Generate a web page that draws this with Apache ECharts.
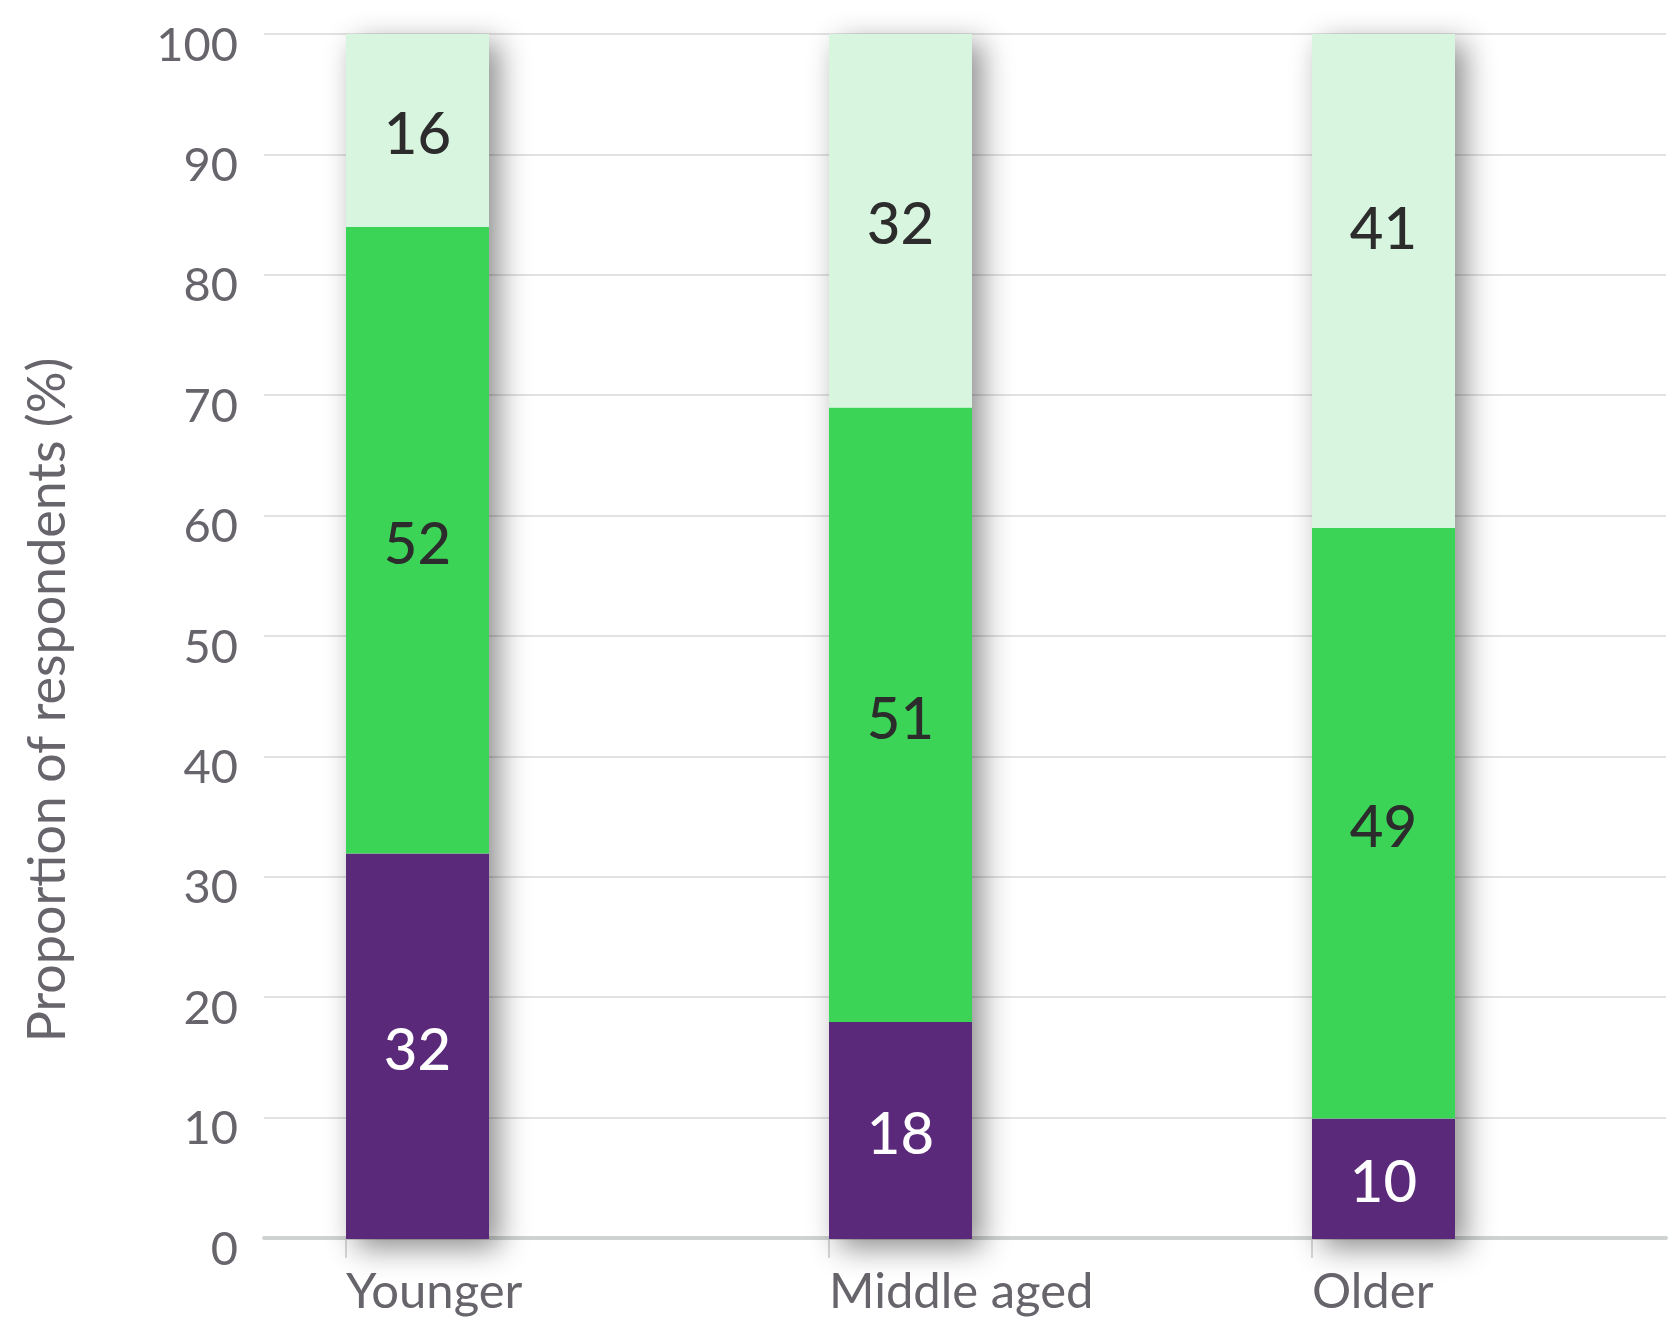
<!DOCTYPE html>
<html>
<head>
<meta charset="utf-8">
<script src="https://cdn.jsdelivr.net/npm/echarts@6/dist/echarts.min.js"></script>
<style>
html,body{margin:0;padding:0;background:#fff;}
#chart{width:1672px;height:1317px;}
</style>
</head>
<body>
<div id="chart"></div>
<script>
const categories = ['Younger', 'Middle aged', 'Older'];
const bottomValues = [32, 18, 10];
const middleValues = [52, 51, 49];
const topValues = [16, 32, 41];
const yTicks = [0, 10, 20, 30, 40, 50, 60, 70, 80, 90, 100];
const yTitle = 'Proportion of respondents (%)';

const chart = echarts.init(document.getElementById('chart'), null, {renderer: 'canvas'});
const FONT = 'Lato';
const GREY = '#67646b';

// layout (pixels)
const BAND = 483, BAR_W = 143, FIRST_CENTER = 417.5;
const PLOT_L = 264, PLOT_R = 1666, TOP = 34, BOTTOM = 78, W = 1672;
const barGridLeft = FIRST_CENTER - BAND / 2;
const barGridRight = W - (barGridLeft + BAND * categories.length);
// value axis (for ticks/labels) mapping: category index -> bar centre
const X_MIN = -(FIRST_CENTER - PLOT_L) / BAND;
const X_MAX = X_MIN + (PLOT_R - PLOT_L) / BAND;
const HALF = (BAR_W / 2) / BAND;

const totals = categories.map((c, i) => bottomValues[i] + middleValues[i] + topValues[i]);

const labelDark = {show: true, position: 'inside', color: '#2c2c2c', fontSize: 58, fontFamily: FONT, fontWeight: 500, offset: [0, 5]};
const labelWhite = Object.assign({}, labelDark, {color: '#ffffff'});
// the last top label sits higher in its segment in the original
const topData = topValues.map((v, i) => i === categories.length - 1 ? {value: v, label: {offset: [0, -51]}} : v);

chart.setOption({
  animation: false,
  backgroundColor: '#ffffff',
  grid: [
    {left: PLOT_L, right: W - PLOT_R, top: TOP, bottom: BOTTOM, containLabel: false},
    {left: barGridLeft, right: barGridRight, top: TOP, bottom: BOTTOM, containLabel: false}
  ],
  xAxis: [{
    gridIndex: 0, type: 'value', min: X_MIN, max: X_MAX,
    splitLine: {show: false},
    axisLine: {show: true, onZero: false, lineStyle: {color: '#cfd3d2', width: 4}},
    axisTick: {show: true, length: 20, customValues: categories.map((c, i) => i - HALF), lineStyle: {color: '#cccccc', width: 1.5}},
    axisLabel: {show: true, customValues: categories.map((c, i) => i - HALF), align: 'left', margin: 30,
      color: GREY, fontSize: 49, fontFamily: FONT,
      formatter: v => categories[Math.round(v + HALF)]}
  }, {
    gridIndex: 1, type: 'category', data: categories, show: false
  }, {
    gridIndex: 1, type: 'category', data: categories, show: false
  }],
  yAxis: [{
    gridIndex: 0, type: 'value', min: 0, max: 100, interval: 10,
    axisLine: {show: false}, axisTick: {show: false},
    splitLine: {show: true, lineStyle: {color: '#d9d9d9', width: 1.5}},
    axisLabel: {color: GREY, fontSize: 47, fontFamily: FONT, margin: 26,
      formatter: v => yTicks.includes(v) ? '{v|' + v + '}' : '',
      rich: {v: {color: GREY, fontSize: 47, fontFamily: FONT, padding: [23, 0, 0, 0]}}}
  }, {
    gridIndex: 1, type: 'value', min: 0, max: 100, show: false
  }],
  graphic: [{
    type: 'text', x: 48, y: 700, rotation: Math.PI / 2,
    style: {text: yTitle, fill: GREY, font: '52px ' + FONT, align: 'center', verticalAlign: 'middle'}
  }],
  series: [
    {type: 'bar', xAxisIndex: 2, yAxisIndex: 1, data: totals, barWidth: BAR_W, z: 1, silent: true,
      itemStyle: {color: '#ffffff', shadowColor: 'rgba(0,0,0,0.45)', shadowBlur: 28, shadowOffsetX: 10, shadowOffsetY: 9}},
    {type: 'bar', xAxisIndex: 1, yAxisIndex: 1, stack: 's', data: bottomValues, barWidth: BAR_W, z: 3, itemStyle: {color: '#5a297a'}, label: labelWhite},
    {type: 'bar', xAxisIndex: 1, yAxisIndex: 1, stack: 's', data: middleValues, barWidth: BAR_W, z: 3, itemStyle: {color: '#3bd457'}, label: labelDark},
    {type: 'bar', xAxisIndex: 1, yAxisIndex: 1, stack: 's', data: topData, barWidth: BAR_W, z: 3, itemStyle: {color: '#d8f5df'}, label: labelDark}
  ]
});
</script>
</body>
</html>
